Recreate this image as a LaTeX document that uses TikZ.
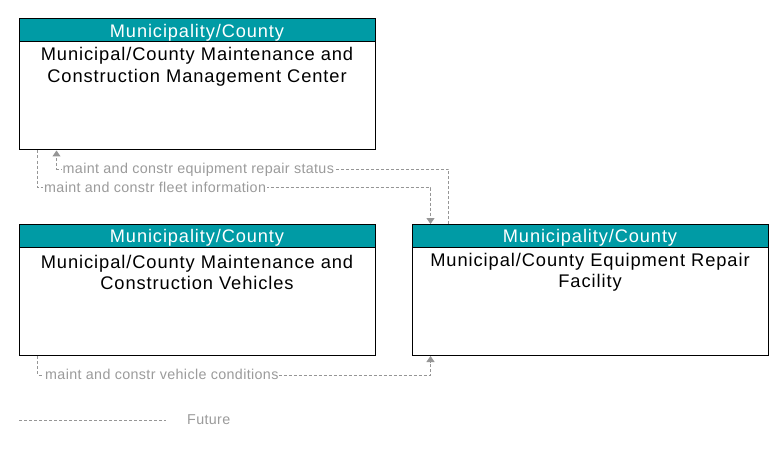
\documentclass[tikz,border=0pt]{standalone}
\usepackage{fontspec}
\setmainfont{Liberation Sans}
\newfontfamily\boxfont[LetterSpace=5]{Liberation Sans}
\newfontfamily\lblfont[LetterSpace=2.5]{Liberation Sans}
\usetikzlibrary{arrows.meta}
\definecolor{hdrteal}{RGB}{0,155,165}
\definecolor{flowgray}{RGB}{150,150,150}
\definecolor{lblgray}{RGB}{155,155,155}
\tikzset{
  sysbox/.style={draw=black, line width=1pt, minimum width=356pt, minimum height=131pt, inner sep=0pt, fill=white},
  hdr/.style={draw=black, line width=1pt, fill=hdrteal, text=white, minimum width=356pt, minimum height=23pt, inner sep=0pt, text height=17pt, anchor=north, font=\boxfont\fontsize{18.2}{20}\selectfont},
  body/.style={font=\boxfont\fontsize{18.3}{21.5}\selectfont, align=center, inner sep=0pt},
  flow/.style={draw=flowgray, line width=1pt, dash pattern=on 3pt off 2pt},
  arr/.style={-{Triangle[width=8pt,length=6pt]}},
  lbl/.style={font=\lblfont\fontsize{14.3}{16}\selectfont, text=lblgray, fill=white, inner sep=1pt, anchor=west},
}
\begin{document}
\begin{tikzpicture}[x=1pt,y=-1pt]
\useasboundingbox[fill=white] (0,0) rectangle (783,449);
% boxes
\node[sysbox] (box1) at (197,84.5) {};
\node[hdr] (h1) at (box1.north) {Municipality/County};
\node[body] (t1) at (197,67) {Municipal/County Maintenance and\\Construction Management Center};

\node[sysbox] (box2) at (197,290) {};
\node[hdr] (h2) at (box2.north) {Municipality/County};
\node[body] (t2) at (197,272.5) {Municipal/County Maintenance and\\Construction Vehicles};

\node[sysbox] (box3) at (590,290) {};
\node[hdr] (h3) at (box3.north) {Municipality/County};
\node[body] (t3) at (590,272.5) {Municipal/County Equipment Repair\\Facility};

% flows
\draw[flow,arr] ([xshift=37pt]box3.north west) -- ++(0,-55) -| ([xshift=38pt]box1.south west);
\node[lbl] (l1) at (61.5,170) {maint and constr equipment repair status};

\draw[flow,arr] ([xshift=19pt]box1.south west) -- ++(0,37) -| ([xshift=19pt]box3.north west);
\node[lbl] (l2) at (43,187) {maint and constr fleet information};

\draw[flow,arr] ([xshift=19pt]box2.south west) -- ++(0,19) -| ([xshift=19pt]box3.south west);
\node[lbl] (l3) at (44,374) {maint and constr vehicle conditions};

% legend
\coordinate (lg1) at (19,420);
\coordinate (lg2) at (166,420);
\draw[flow] (lg1) -- (lg2);
\node[lbl] (lgt) at (186,420) {Future};
\end{tikzpicture}
\end{document}
